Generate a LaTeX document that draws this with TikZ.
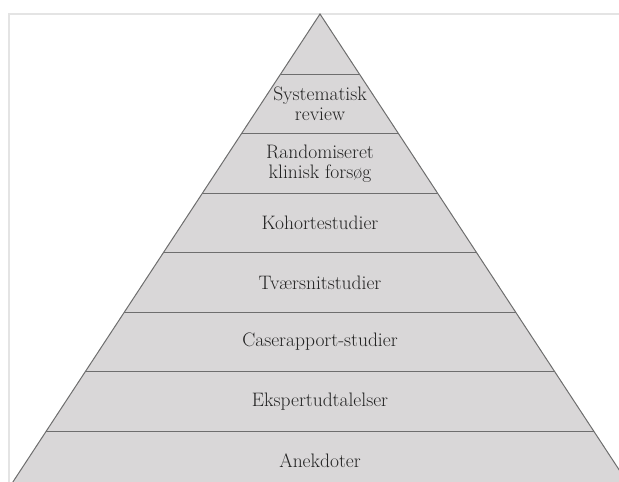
\documentclass[tikz,border=0pt]{standalone}
\usetikzlibrary{positioning}
\definecolor{tierfill}{RGB}{217,215,216}
\definecolor{tierline}{RGB}{110,110,110}
\definecolor{framegray}{RGB}{228,228,228}
\definecolor{tiertext}{RGB}{35,35,35}
\tikzset{
  centered/.style = { align=center, anchor=center },
      tier/.style = { font=\fontsize{19.5}{20}\selectfont, text=tiertext, centered },
   divider/.style = { draw=tierline, line width=1pt },
     frame/.style = { draw=framegray, line width=1.2pt },
}

\begin{document}
\begin{tikzpicture}[x=1pt,y=-1pt]
  \useasboundingbox (0,0) rectangle (619,482);
  \clip (0,0) rectangle (619,482);
  % faint frame
  \draw [frame] (9,482) -- (9,14) -- (619,14);
  % pyramid
  \coordinate (apex) at (320,14);
  \coordinate (base-l) at (5,494);
  \coordinate (base-r) at (635,494);
  \fill [tierfill] (apex) -- (base-l) -- (base-r) -- cycle;
  \begin{scope}
    \clip (apex) -- (base-l) -- (base-r) -- cycle;
    \foreach \y in {74,133.5,193,252.5,312,371.5,431} {
      \draw [divider] (0,\y) -- (619,\y);
    }
  \end{scope}
  \draw [divider] (base-l) -- (apex) -- (base-r);
  % tiers
  \foreach \i/\txt in {1/{Systematisk\\review},
                       2/{Randomiseret\\klinisk forsøg},
                       3/Kohortestudier,
                       4/Tværsnitstudier,
                       5/Caserapport-studier,
                       6/Ekspertudtalelser,
                       7/Anekdoter} {
    \node [tier] (tier-\i) at (320,44.5+59.5*\i) {\txt};
  }
\end{tikzpicture}
\end{document}
